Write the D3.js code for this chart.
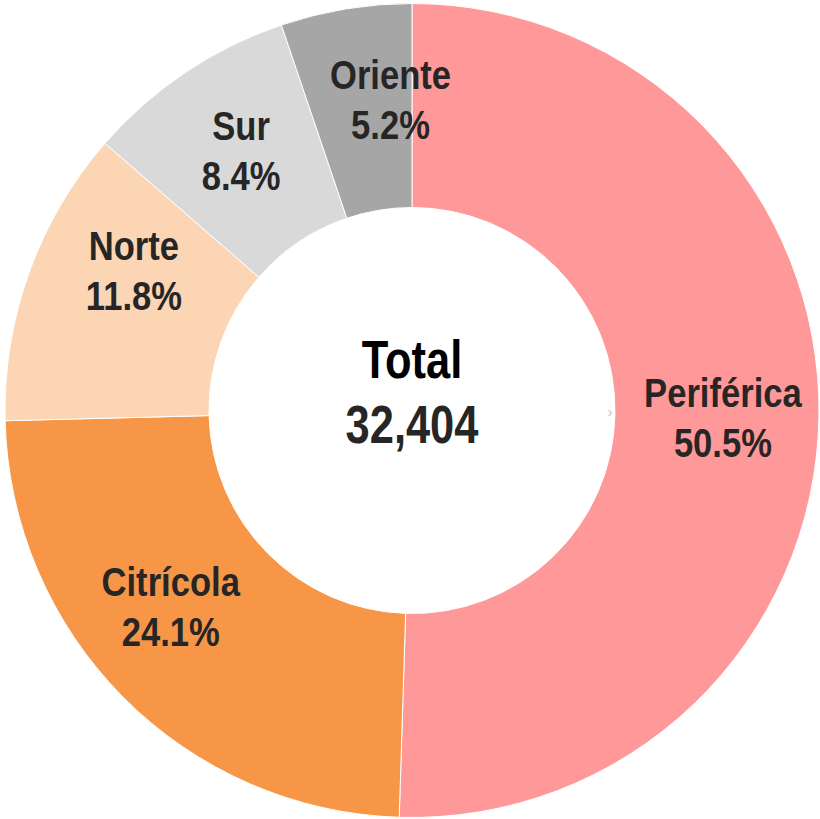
<!DOCTYPE html>
<html lang="es">
<head>
<meta charset="UTF-8" />
<title>Total 32,404</title>
<script src="https://cdn.jsdelivr.net/npm/d3@7"></script>
<style>
  html, body { margin: 0; padding: 0; background: #fff; }
  svg text { font-family: "Liberation Sans Narrow", "Arial Narrow", "Liberation Sans", Arial, sans-serif; font-weight: bold; }
</style>
</head>
<body>
<script>
// data
var regions = ["Periférica", "Citrícola", "Norte", "Sur", "Oriente"];
var shares = [50.5, 24.1, 11.8, 8.4, 5.2];
var colors = ["#ff9999", "#f79646", "#fcd5b5", "#d9d9d9", "#a6a6a6"];
var totalLabel = "Total";
var totalValue = 32404;

var w = 820, h = 819;
var cx = 412, cy = 410.5;
var outerR = 407, innerR = 203, labelR = 311;
var narrow = 0.82, narrowLbl = 0.865; // no narrow font installed, squeeze the regular one

// excel nudges some labels a bit clockwise (degrees)
var labelNudge = { "Periférica": 0.5, "Citrícola": 5.7, "Norte": 6.8, "Sur": 0.5, "Oriente": 5.4 };

var data = regions.map(function(d, i) {
  return { name: d, share: shares[i], color: colors[i] };
});

var svg = d3.select("body").append("svg")
  .attr("width", w)
  .attr("height", h);

var g = svg.append("g")
  .attr("transform", "translate(" + cx + "," + cy + ")");

var pie = d3.pie()
  .sort(null)
  .value(function(d) { return d.share; });

var arc = d3.arc()
  .innerRadius(innerR)
  .outerRadius(outerR);

var arcs = pie(data);

g.selectAll("path")
  .data(arcs)
  .enter()
  .append("path")
  .attr("d", arc)
  .attr("fill", function(d) { return d.data.color; })
  .attr("stroke", "#fff")
  .attr("stroke-width", 1);

var labels = g.selectAll("text.lbl")
  .data(arcs)
  .enter()
  .append("text")
  .attr("class", "lbl")
  .attr("text-anchor", "middle")
  .attr("fill", "#262626")
  .style("font-size", "40px")
  .attr("transform", function(d) {
    var a = (d.startAngle + d.endAngle) / 2 + labelNudge[d.data.name] * Math.PI / 180;
    var x = labelR * Math.sin(a);
    var y = -labelR * Math.cos(a);
    return "translate(" + x + "," + y + ") scale(" + narrowLbl + ",1)";
  });

labels.append("tspan")
  .attr("x", 0)
  .attr("y", -11)
  .text(function(d) { return d.data.name; });

labels.append("tspan")
  .attr("x", 0)
  .attr("y", 39)
  .text(function(d) { return d3.format(".1f")(d.data.share) + "%"; });

g.append("text")
  .attr("text-anchor", "middle")
  .attr("transform", "translate(0,-33) scale(" + narrow + ",1)")
  .attr("fill", "#000")
  .style("font-size", "53px")
  .text(totalLabel);

g.append("text")
  .attr("text-anchor", "middle")
  .attr("transform", "translate(0,32) scale(" + narrow + ",1)")
  .attr("fill", "#262626")
  .style("font-size", "53px")
  .text(d3.format(",")(totalValue));

// small grey marker left inside the hole
g.append("text")
  .attr("x", innerR - 5)
  .attr("y", 6)
  .attr("text-anchor", "middle")
  .attr("fill", "#c0c0c0")
  .style("font-size", "14px")
  .style("font-weight", "normal")
  .text("›");
</script>
</body>
</html>
